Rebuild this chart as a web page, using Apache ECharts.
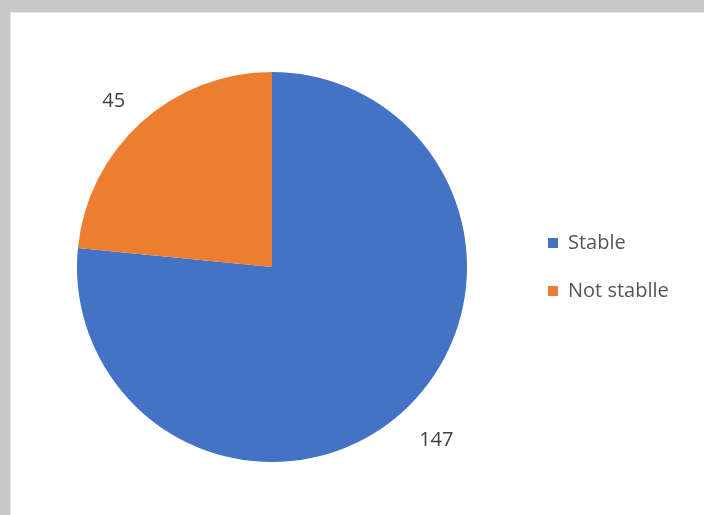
<!DOCTYPE html>
<html>
<head>
<meta charset="utf-8">
<script src="https://cdn.jsdelivr.net/npm/echarts@6/dist/echarts.min.js"></script>
<style>
  html, body { margin: 0; padding: 0; background: #c8c8c8; }
  #frame { position: absolute; left: 10px; top: 12px; width: 694px; height: 503px; background: #ffffff; border-left: 1px solid #e4e4e4; border-top: 1px solid #e4e4e4; }
  #chart { position: absolute; left: -11px; top: -13px; width: 704px; height: 515px; }
</style>
</head>
<body>
<div id="frame"><div id="chart"></div></div>
<script>
// Stability counts shown as a pie
const categories = ['Stable', 'Not stablle'];
const counts = [147, 45];
const colors = ['#4472C4', '#ED7D31'];

const chart = echarts.init(document.getElementById('chart'), null, { renderer: 'canvas' });

const sliceData = categories.map((name, i) => ({
  name: name,
  value: counts[i],
  itemStyle: { color: colors[i] }
}));

const font = 'Open Sans, sans-serif';

chart.setOption({
  animation: false,
  backgroundColor: 'transparent',
  legend: {
    orient: 'vertical',
    left: 543,
    top: 227,
    itemWidth: 10,
    itemHeight: 10,
    itemGap: 26,
    icon: 'rect',
    data: categories,
    textStyle: { color: '#555555', fontSize: 20, fontFamily: font, lineHeight: 22, padding: [0, 0, 0, 5] }
  },
  series: [
    {
      type: 'pie',
      center: [272, 267],
      radius: 195,
      startAngle: 90,
      clockwise: true,
      label: { show: false },
      labelLine: { show: false },
      emphasis: { disabled: true },
      data: sliceData
    },
    {
      // transparent ring that carries the value labels just outside the pie
      type: 'pie',
      center: [275, 271],
      radius: [221, 241],
      startAngle: 91.4,
      clockwise: true,
      silent: true,
      itemStyle: { color: 'transparent' },
      label: {
        show: true,
        position: 'inside',
        formatter: '{c}',
        color: '#404040',
        fontSize: 20,
        fontFamily: font
      },
      labelLine: { show: false },
      emphasis: { disabled: true },
      data: categories.map((name, i) => ({ name: name, value: counts[i] }))
    }
  ]
});
</script>
</body>
</html>
